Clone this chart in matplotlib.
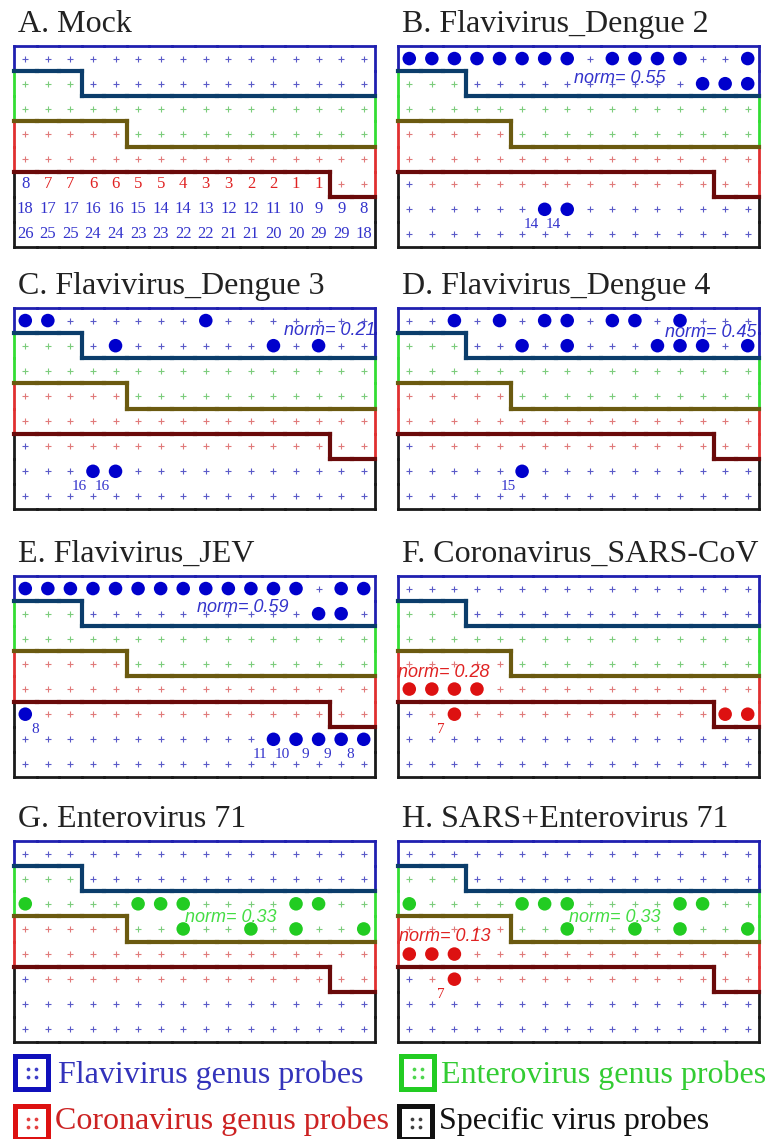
import matplotlib.pyplot as plt
from matplotlib.collections import LineCollection
from matplotlib.patches import Rectangle

# probe layout on the chip, one letter per spot
# F/E/C = flavi-, entero-, corona- genus probes, f/c = flavi / SARS specific probes
probe_map = [
    "FFFFFFFFFFFFFFFF",
    "EEEFFFFFFFFFFFFF",
    "EEEEEEEEEEEEEEEE",
    "CCCCCEEEEEEEEEEE",
    "CCCCCCCCCCCCCCCC",
    "fcccccccccccccCC",
    "ffffffffffffffff",
    "ffffffffffffffff",
]

# specific probe numbers (rows 5-7)
spec_nums = {
    5: [8, 7, 7, 6, 6, 5, 5, 4, 3, 3, 2, 2, 1, 1],
    6: [18, 17, 17, 16, 16, 15, 14, 14, 13, 12, 12, 11, 10, 9, 9, 8],
    7: [26, 25, 25, 24, 24, 23, 23, 22, 22, 21, 21, 20, 20, 29, 29, 18],
}

titles = ["A. Mock", "B. Flavivirus_Dengue 2", "C. Flavivirus_Dengue 3",
          "D. Flavivirus_Dengue 4", "E. Flavivirus_JEV", "F. Coronavirus_SARS-CoV",
          "G. Enterovirus 71", "H. SARS+Enterovirus 71"]

# positive spots: row -> columns
hits_A = {}
hits_B = {0: [0, 1, 2, 3, 4, 5, 6, 7, 9, 10, 11, 12, 15], 1: [13, 14, 15], 6: [6, 7]}
hits_C = {0: [0, 1, 8], 1: [4, 11, 13], 6: [3, 4]}
hits_D = {0: [2, 4, 6, 7, 9, 10, 12], 1: [5, 7, 11, 12, 13, 15], 6: [5]}
hits_E = {0: [0, 1, 2, 3, 4, 5, 6, 7, 8, 9, 10, 11, 12, 14, 15], 1: [13, 14],
          5: [0], 6: [11, 12, 13, 14, 15]}
hits_F = {4: [0, 1, 2, 3], 5: [2, 14, 15]}
hits_G = {2: [0, 5, 6, 7, 12, 13], 3: [7, 10, 12, 15]}
hits_H = {2: [0, 5, 6, 7, 12, 13], 3: [7, 10, 12, 15], 4: [0, 1, 2], 5: [2]}
hits = [hits_A, hits_B, hits_C, hits_D, hits_E, hits_F, hits_G, hits_H]

# norm values: (probe group, value)
norms = [[], [("F", 0.55)], [("F", 0.21)], [("F", 0.45)], [("F", 0.59)],
         [("C", 0.28)], [("E", 0.33)], [("E", 0.33), ("C", 0.13)]]
# where the norm text sits (x, y, ha)
norm_pos = [[], [(7.3, 0.78, "left")], [(15.5, 0.38, "right")], [(15.4, 0.46, "right")],
            [(7.6, 0.75, "left")], [(-0.5, 3.36, "left")], [(7.1, 2.55, "left")],
            [(7.1, 2.55, "left"), (-0.45, 3.32, "left")]]

group = {"F": "F", "E": "E", "C": "C", "f": "S", "c": "S"}
dot_col = {"F": "#5a5ac8", "E": "#7ccc7c", "C": "#e07a7a", "f": "#5a5ac8", "c": "#e07a7a"}
hit_col = {"F": "#0000cc", "E": "#22cc22", "C": "#dd1111", "f": "#0000cc", "c": "#dd1111"}
txt_col = {"F": "#3333cc", "E": "#44dd44", "C": "#e02222"}
outer_col = {"F": "#2020b0", "E": "#33dd33", "C": "#e03030", "S": "#1a1a1a"}
shared_col = {frozenset("FE"): "#0b3d6b", frozenset("EC"): "#6b5a10",
              frozenset("CS"): "#6a0a0a"}

nrow, ncol = len(probe_map), len(probe_map[0])

# box edges from the probe map
outer_segs, outer_c, inner_segs, inner_c = [], [], [], []
for r in range(nrow):
    for c in range(ncol):
        g = group[probe_map[r][c]]
        if r == 0:
            outer_segs.append([(c - 0.5, -0.5), (c + 0.5, -0.5)]); outer_c.append(outer_col[g])
        if r == nrow - 1:
            outer_segs.append([(c - 0.5, r + 0.5), (c + 0.5, r + 0.5)]); outer_c.append(outer_col[g])
        if c == 0:
            outer_segs.append([(-0.5, r - 0.5), (-0.5, r + 0.5)]); outer_c.append(outer_col[g])
        if c == ncol - 1:
            outer_segs.append([(c + 0.5, r - 0.5), (c + 0.5, r + 0.5)]); outer_c.append(outer_col[g])
        if c < ncol - 1:
            g2 = group[probe_map[r][c + 1]]
            if g2 != g:
                inner_segs.append([(c + 0.5, r - 0.5), (c + 0.5, r + 0.5)])
                inner_c.append(shared_col[frozenset(g + g2)])
        if r < nrow - 1:
            g2 = group[probe_map[r + 1][c]]
            if g2 != g:
                inner_segs.append([(c - 0.5, r + 0.5), (c + 0.5, r + 0.5)])
                inner_c.append(shared_col[frozenset(g + g2)])

W, H = 768, 1139
fig = plt.figure(figsize=(W / 100, H / 100), dpi=100)
lefts = [14, 398]
tops = [46, 308, 576, 841]
bw, bh = 361, 201
serif = "Liberation Serif"

for i in range(8):
    x0, y0 = lefts[i % 2], tops[i // 2]
    ax = fig.add_axes([x0 / W, 1 - (y0 + bh) / H, bw / W, bh / H])
    ax.set_xlim(-0.5, 15.5)
    ax.set_ylim(7.5, -0.5)
    ax.axis("off")
    fig.text((x0 + 4) / W, 1 - (y0 - 14) / H, titles[i], fontsize=23, family=serif,
             va="baseline", color="#222222")

    # grid spots
    for r in range(nrow):
        for c in range(ncol):
            p = probe_map[r][c]
            if i == 0 and p in "fc":
                ax.text(c, r, str(spec_nums[r][c]), ha="center", va="center",
                        fontsize=12, family=serif, color=txt_col["F" if p == "f" else "C"])
            else:
                ax.scatter(c, r, marker="+", s=14, linewidths=0.8, color=dot_col[p], zorder=2)

    ax.add_collection(LineCollection(outer_segs, colors=outer_c, linewidths=2.0,
                                     capstyle="projecting", clip_on=False, zorder=3))
    ax.add_collection(LineCollection(inner_segs, colors=inner_c, linewidths=3.0,
                                     capstyle="projecting", clip_on=False, zorder=4))

    # positive spots
    for r, cols in hits[i].items():
        for c in cols:
            p = probe_map[r][c]
            ax.scatter(c, r, s=95, color=hit_col[p], edgecolors="none", zorder=5)
            if p in "fc":
                dx = 0.45 if c == 0 else -0.6
                ax.text(c + dx, r + 0.62, str(spec_nums[r][c]), ha="center", va="center",
                        fontsize=11, family=serif, color=txt_col["F" if p == "f" else "C"],
                        zorder=6)

    for (g, v), (nx, ny, ha) in zip(norms[i], norm_pos[i]):
        ax.text(nx, ny, "norm= %.2f" % v, ha=ha, va="center", fontsize=13,
                family="Liberation Sans", style="italic", color=txt_col[g], zorder=6)

# legend
lax = fig.add_axes([0, 0, 1, 100 / H])
lax.set_xlim(0, W)
lax.set_ylim(H, H - 100)
lax.axis("off")
leg_items = [("Flavivirus genus probes", "F", 13, 1054, 58, 1083),
             ("Enterovirus genus probes", "E", 399, 1054, 441, 1083),
             ("Coronavirus genus probes", "C", 13, 1104, 55, 1129),
             ("Specific virus probes", "S", 397, 1104, 439, 1129)]
leg_txt = {"F": "#3333bb", "E": "#33cc33", "C": "#cc2222", "S": "#111111"}
leg_box = {"F": "#1010bb", "E": "#22cc22", "C": "#dd1111", "S": "#111111"}
for label, g, ix, iy, tx, ty in leg_items:
    lax.add_patch(Rectangle((ix + 2, iy + 2), 33, 33, facecolor="white",
                            edgecolor=leg_box[g], linewidth=3.6))
    for ddx in (-4, 4):
        for ddy in (-4, 4):
            lax.scatter(ix + 18.5 + ddx, iy + 18.5 + ddy, s=3, color=leg_box[g], alpha=0.7)
    lax.text(tx, ty, label, fontsize=23, family=serif, va="baseline", color=leg_txt[g])

fig.savefig("out.png", dpi=100)
